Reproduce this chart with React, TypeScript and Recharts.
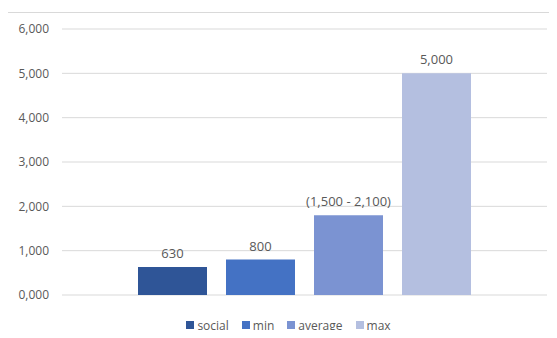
import React from 'react';
import { BarChart, Bar, XAxis, YAxis, CartesianGrid, Legend, LabelList } from 'recharts';

const SERIES = ['social', 'min', 'average', 'max'];
const VALUES = [630, 800, 1800, 5000];
const VALUE_LABELS = ['630', '800', '(1,500 - 2,100)', '5,000'];
const COLORS = ['#2F5597', '#4472C4', '#7B93D2', '#B4BFE0'];
const Y_TICKS = [0, 1000, 2000, 3000, 4000, 5000, 6000];
const Y_TICK_LABELS = ['0,000', '1,000', '2,000', '3,000', '4,000', '5,000', '6,000'];
// only the bottoms of the title letters are inside the picture
const TITLE_GLYPHS = ['y', 'p', 'g', 'y'];

const FONT = '"Open Sans", sans-serif';
const GRAY = '#595959';

// one category, one bar per series
const row: Record<string, string | number> = { name: '' };
SERIES.forEach((s, i) => {
  row[s] = VALUES[i];
});
const data = [row];

const renderLegend = () => (
  <div
    style={{
      display: 'flex',
      justifyContent: 'center',
      alignItems: 'center',
      height: 20,
      fontFamily: FONT,
      fontSize: 12,
      color: GRAY,
    }}
  >
    {SERIES.map((s, i) => (
      <div key={s} style={{ display: 'flex', alignItems: 'center', marginRight: i < SERIES.length - 1 ? 13 : 0 }}>
        <span style={{ display: 'inline-block', width: 8, height: 8, background: COLORS[i], marginRight: 3 }} />
        <span>{s}</span>
      </div>
    ))}
  </div>
);

// label above the bar, kept on one line
const makeLabel = (text: string) => (props: any) => {
  const { x, y, width } = props;
  return (
    <text
      x={Number(x) + Number(width) / 2}
      y={Number(y) - 9}
      textAnchor="middle"
      fill={GRAY}
      fontSize={13}
      fontFamily={FONT}
    >
      {text}
    </text>
  );
};

const App = () => {
  const titleX = [110, 202, 379, 512];

  return (
    <div style={{ position: 'relative', width: 557, height: 338, margin: -8, overflow: 'hidden', background: '#fff' }}>
      {/* chart frame */}
      <div
        style={{
          position: 'absolute',
          left: 7,
          top: 12,
          width: 600,
          height: 400,
          border: '1px solid #d9d9d9',
        }}
      />
      <svg width={557} height={12} style={{ position: 'absolute', left: 0, top: 0 }}>
        {TITLE_GLYPHS.map((g, i) => (
          <text key={i} x={titleX[i]} y={0} fontFamily='"Liberation Serif", serif' fontSize={22} fill="#000">
            {g}
          </text>
        ))}
      </svg>
      <div style={{ position: 'absolute', left: 0, top: 0 }}>
        <BarChart
          width={557}
          height={338}
          data={data}
          margin={{ top: 29, right: 10, bottom: 23, left: 0 }}
          barCategoryGap={76}
          barGap={19}
        >
          <CartesianGrid vertical={false} stroke="#d9d9d9" />
          <XAxis dataKey="name" hide />
          <YAxis
            width={62}
            domain={[0, 6000]}
            ticks={Y_TICKS}
            interval={0}
            axisLine={false}
            tickLine={false}
            tickMargin={7}
            tickFormatter={(v: number) => Y_TICK_LABELS[Y_TICKS.indexOf(v)]}
            tick={{ fill: GRAY, fontSize: 12, fontFamily: FONT }}
          />
          <Legend
            verticalAlign="bottom"
            content={renderLegend}
            wrapperStyle={{ left: 20, width: 537, top: 315, bottom: 'auto' }}
          />
          {SERIES.map((s, i) => (
            <Bar key={s} dataKey={s} fill={COLORS[i]} isAnimationActive={false}>
              <LabelList dataKey={s} content={makeLabel(VALUE_LABELS[i])} />
            </Bar>
          ))}
        </BarChart>
      </div>
    </div>
  );
};

export default App;
